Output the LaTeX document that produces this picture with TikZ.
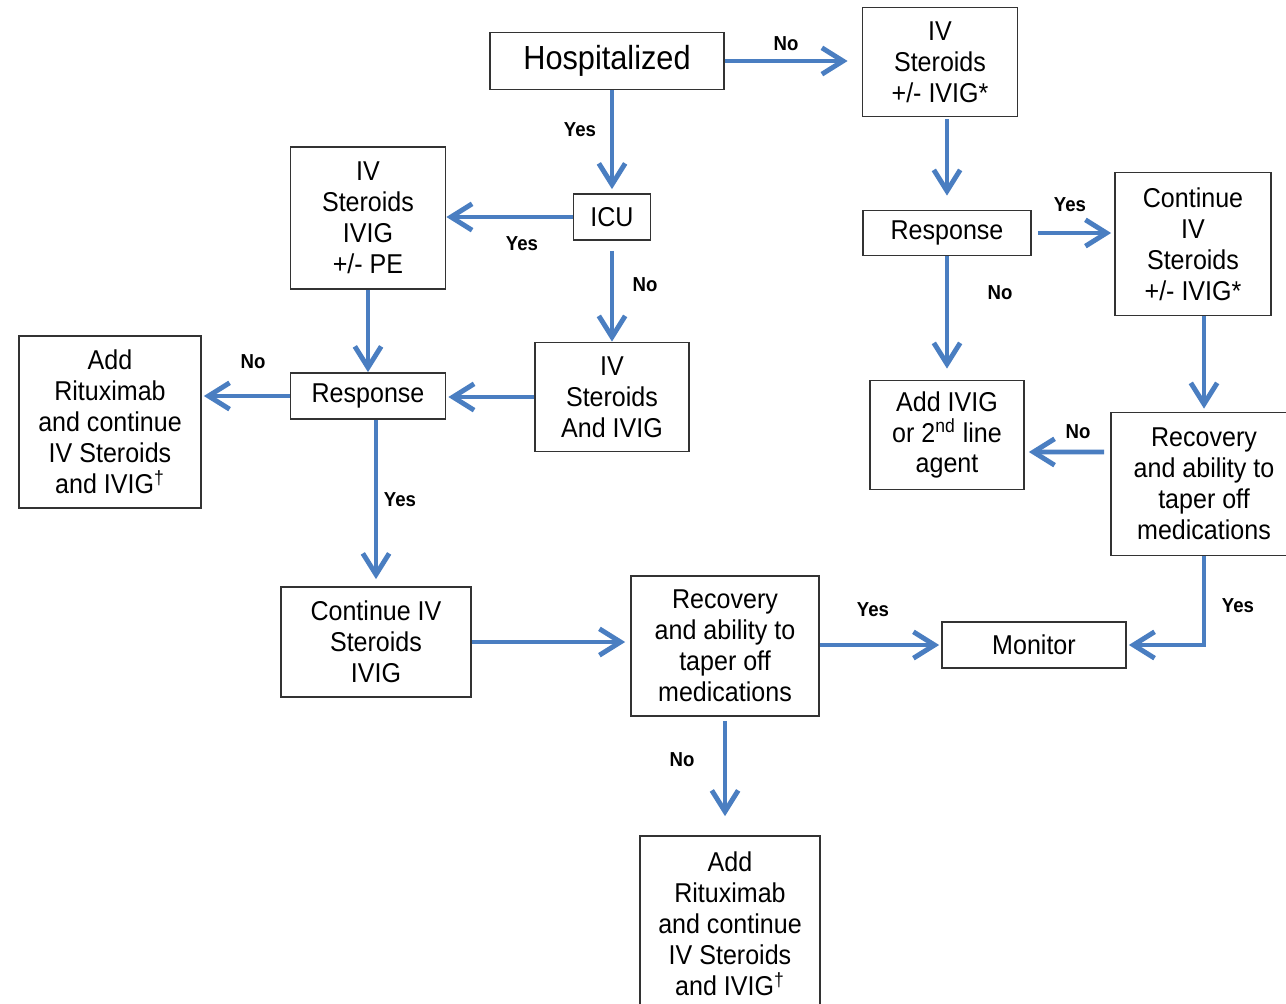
\documentclass[tikz,border=0pt]{standalone}
\usepackage{fontspec}
\setmainfont{Liberation Sans}[FakeStretch=0.92]
\usetikzlibrary{arrows.meta}
\definecolor{flowblue}{RGB}{74,126,193}
\tikzset{
  box/.style={draw=black!80, line width=1pt, fill=white, align=center, inner sep=2pt, font=\fontsize{15.5}{17.6}\selectfont},
  flow/.style={draw=flowblue, line width=2.8pt, -{Straight Barb[length=12pt,width=15pt]}},
  lbl/.style={font=\bfseries\fontsize{11.5}{13}\selectfont},
}
\begin{document}
\begin{tikzpicture}[x=0.02cm, y=-0.02cm]
\useasboundingbox (0,0) rectangle (1286,1004);
\node[box, font=\fontsize{19}{22}\selectfont, minimum width=4.68cm, minimum height=1.14cm] (hosp) at (607,61) {Hospitalized};
\node[box, minimum width=3.1cm, minimum height=2.18cm] (ivtop) at (940,62) {IV\\Steroids\\+/- IVIG*};
\node[box, minimum width=1.54cm, minimum height=0.92cm] (icu) at (612,217) {ICU};
\node[box, minimum width=3.1cm, minimum height=2.84cm] (ivpe) at (368,218) {IV\\Steroids\\IVIG\\+/- PE};
\node[box, minimum width=3.1cm, minimum height=0.92cm] (respL) at (368,396) {Response};
\node[box, minimum width=3.08cm, minimum height=2.18cm] (ivand) at (612,397) {IV\\Steroids\\And IVIG};
\node[box, minimum width=3.64cm, minimum height=3.44cm] (ritL) at (110,422) {Add\\Rituximab\\and continue\\IV Steroids\\and IVIG\textsuperscript{\textdagger}};
\node[box, minimum width=3.8cm, minimum height=2.2cm] (contL) at (376,642) {Continue IV\\Steroids\\IVIG};
\node[box, minimum width=3.76cm, minimum height=2.8cm] (recM) at (725,646) {Recovery\\and ability to\\taper off\\medications};
\node[box, minimum width=3.68cm, minimum height=0.92cm] (monitor) at (1034,645) {Monitor};
\node[box, minimum width=3.6cm, minimum height=3.52cm] (ritB) at (730,924) {Add\\Rituximab\\and continue\\IV Steroids\\and IVIG\textsuperscript{\textdagger}};
\node[box, minimum width=3.36cm, minimum height=0.9cm] (respR) at (947,233) {Response};
\node[box, minimum width=3.12cm, minimum height=2.86cm] (contR) at (1193,244) {Continue\\IV\\Steroids\\+/- IVIG*};
\node[box, minimum width=3.08cm, minimum height=2.18cm] (addivig) at (947,435) {Add IVIG\\or 2\textsuperscript{nd} line\\agent};
\node[box, minimum width=3.72cm, minimum height=2.86cm] (recR) at (1204,484) {Recovery\\and ability to\\taper off\\medications};
% answers
\node[lbl] (noA) at (786,44) {No};
\node[lbl] (yesA) at (580,130) {Yes};
\node[lbl] (yesB) at (522,244) {Yes};
\node[lbl] (noB) at (645,285) {No};
\node[lbl] (noC) at (253,362) {No};
\node[lbl] (yesC) at (400,500) {Yes};
\node[lbl] (yesD) at (873,610) {Yes};
\node[lbl] (noD) at (682,760) {No};
\node[lbl] (yesE) at (1070,205) {Yes};
\node[lbl] (noE) at (1000,293) {No};
\node[lbl] (noF) at (1078,432) {No};
\node[lbl] (yesF) at (1238,606) {Yes};
% left branch
\draw[flow, shorten >=0.28cm] (hosp.east) -- (ivtop.west |- hosp.east);
\draw[flow, shorten >=0.08cm] (icu.north |- hosp.south) -- (icu.north);
\draw[flow] (icu.west) -- (ivpe.east |- icu.west);
\draw[flow, shorten <=0.2cm] (icu.south) -- (ivand.north);
\draw[flow] (ivpe.south) -- (respL.north);
\draw[flow, shorten >=0.04cm] (ivand.west) -- (ivand.west -| respL.east);
\draw[flow, shorten >=0.04cm] (respL.west) -- (ritL.east |- respL.west);
\draw[flow, shorten >=0.14cm] (contL.north |- respL.south) -- (contL.north);
\draw[flow, shorten >=0.1cm] (contL.east) -- (contL.east -| recM.west);
\draw[flow, shorten >=0.04cm] (recM.east |- monitor.west) -- (monitor.west);
\draw[flow, shorten <=0.08cm, shorten >=0.38cm] (recM.south) -- (recM.south |- ritB.north);
% right branch
\draw[flow, shorten <=0.04cm, shorten >=0.28cm] (ivtop.south -| respR.north) -- (respR.north);
\draw[flow, shorten <=0.12cm, shorten >=0.06cm] (respR.east) -- (contR.west |- respR.east);
\draw[flow, shorten >=0.22cm] (respR.south) -- (respR.south |- addivig.north);
\draw[flow, shorten >=0.06cm] (recR.north |- contR.south) -- (recR.north);
\draw[flow, shorten <=0.12cm, shorten >=0.08cm] ([yshift=0.64cm]recR.west) -- ([yshift=-0.34cm]addivig.east);
\draw[flow, shorten >=0.04cm] (recR.south) |- (monitor.east);
\end{tikzpicture}
\end{document}
